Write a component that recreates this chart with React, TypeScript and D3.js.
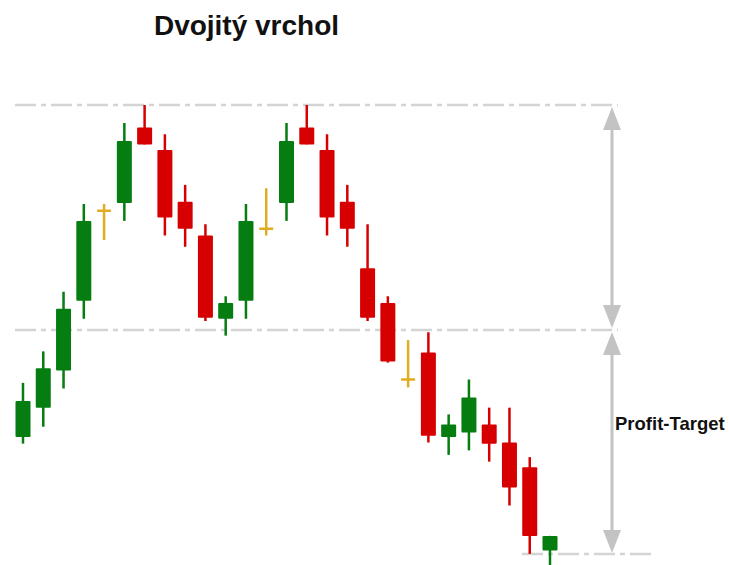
import React from "react";
import * as d3 from "d3";

const W = 729;
const H = 565;

const title = "Dvojitý vrchol";
const targetLabel = "Profit-Target";

// OHLC per candle (price units)
const opens = [70.5, 73.1, 76.4, 82.6, 90.6, 91.3, 98.0, 96.0, 91.4, 88.4, 81.0, 82.6, 89.0, 91.3, 98.0, 96.0, 91.4, 85.5, 82.4, 75.6, 78.0, 70.5, 70.9, 71.6, 70.0, 67.8, 60.4];
const highs = [75.3, 78.1, 83.4, 91.2, 91.2, 98.4, 100.0, 97.4, 92.9, 89.4, 83.0, 91.2, 92.6, 98.4, 100.0, 97.4, 92.9, 89.4, 83.0, 79.1, 79.8, 72.5, 75.6, 73.1, 73.1, 68.7, 61.7];
const lows = [69.9, 71.4, 74.8, 81.0, 88.0, 89.7, 96.5, 88.4, 87.4, 80.8, 79.5, 81.0, 88.4, 89.7, 96.5, 88.4, 87.4, 80.8, 77.1, 74.9, 70.0, 68.9, 69.3, 68.3, 64.4, 60.1, 58.2];
const closes = [73.7, 76.6, 81.9, 89.7, 90.6, 96.8, 96.5, 90.0, 89.0, 81.1, 82.4, 89.7, 89.0, 96.8, 96.5, 90.0, 89.0, 81.1, 77.2, 75.6, 70.6, 71.6, 74.0, 69.9, 66.0, 61.7, 61.7];

const resistance = 100;
const neckline = 80;
const target = 60;

const GREEN = "#067d10";
const RED = "#d60000";
const YELLOW = "#e0ad22";
const LINE = "#d4d4d4";
const ARROW = "#c3c3c3";

export default function App() {
  const x = d3.scaleLinear().domain([0, opens.length - 1]).range([23, 550]);
  const y = d3.scaleLinear().domain([target, resistance]).range([555, 105]);
  const bodyW = 15;
  const dash = "21,5,5,5";
  const arrowX = 612;
  const headW = 9;
  const headH = 23;

  const candles = opens.map((o, i) => {
    const c = closes[i];
    const color = o === c ? YELLOW : c > o ? GREEN : RED;
    const cx = x(i);
    const top = y(Math.max(o, c));
    const bot = y(Math.min(o, c));
    return (
      <g key={i}>
        <line x1={cx} x2={cx} y1={y(highs[i])} y2={y(lows[i])} stroke={color} strokeWidth={2.5} />
        {o === c ? (
          <line x1={cx - 7} x2={cx + 7} y1={top} y2={top} stroke={color} strokeWidth={2.5} />
        ) : (
          <rect x={cx - bodyW / 2} y={top} width={bodyW} height={Math.max(1, bot - top)} fill={color} rx={1} />
        )}
      </g>
    );
  });

  const arrow = (yTop: number, yBot: number, key: string) => (
    <g key={key}>
      <line x1={arrowX} x2={arrowX} y1={yTop + headH - 2} y2={yBot - headH + 2} stroke={ARROW} strokeWidth={3} />
      <path d={`M${arrowX},${yTop} L${arrowX - headW},${yTop + headH} L${arrowX + headW},${yTop + headH} Z`} fill={ARROW} />
      <path d={`M${arrowX},${yBot} L${arrowX - headW},${yBot - headH} L${arrowX + headW},${yBot - headH} Z`} fill={ARROW} />
    </g>
  );

  return (
    <svg width={W} height={H} style={{ position: "absolute", left: 0, top: 0, background: "#fff" }}>
      <text x={246.5} y={35} textAnchor="middle" fontFamily="Liberation Sans, Arial, sans-serif" fontWeight="bold" fontSize={28} fill="#111">
        {title}
      </text>
      <line x1={15} x2={618} y1={y(resistance)} y2={y(resistance)} stroke={LINE} strokeWidth={2.5} strokeDasharray={dash} />
      <line x1={15} x2={618} y1={y(neckline)} y2={y(neckline)} stroke={LINE} strokeWidth={2.5} strokeDasharray={dash} />
      <line x1={522} x2={655} y1={y(target) - 1} y2={y(target) - 1} stroke={LINE} strokeWidth={2.5} strokeDasharray={dash} />
      {arrow(y(resistance) + 2, y(neckline) - 2, "a1")}
      {arrow(y(neckline) + 2, y(target) - 2, "a2")}
      {candles}
      <text x={615} y={430} fontFamily="Liberation Sans, Arial, sans-serif" fontWeight="bold" fontSize={18.5} fill="#111">
        {targetLabel}
      </text>
    </svg>
  );
}
